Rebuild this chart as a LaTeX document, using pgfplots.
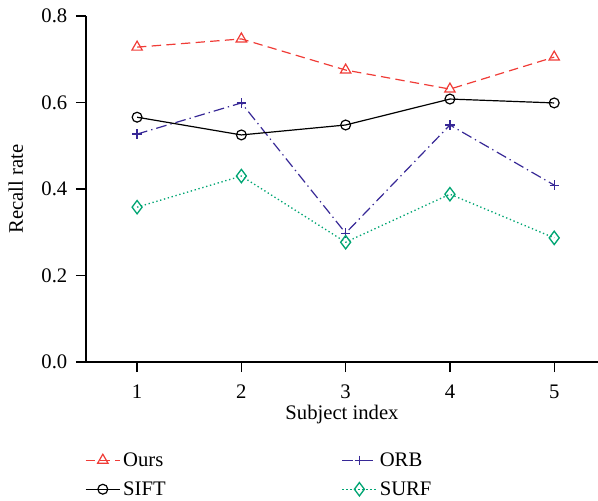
\documentclass[border=0pt]{standalone}
\usepackage{pgfplots}
\pgfplotsset{compat=1.18}
\usepackage{fontspec}
\setmainfont{Liberation Serif}
\definecolor{cOurs}{RGB}{240,60,55}
\definecolor{cORB}{RGB}{55,40,150}
\definecolor{cSURF}{RGB}{0,165,115}
\begin{document}
\begin{tikzpicture}
\begin{axis}[
  name=ax,
  scale only axis,
  width=384pt, height=259.5pt,
  xmin=0.51, xmax=5.42, ymin=0, ymax=0.8,
  axis x line=bottom, axis y line=left,
  axis line style={-, line width=0.9pt},
  xtick={1,2,3,4,5},
  ytick={0,0.2,0.4,0.6,0.8},
  yticklabel style={xshift=-3pt, /pgf/number format/.cd, fixed, fixed zerofill, precision=1},
  xticklabel style={yshift=-6pt},
  /pgf/number format/assume math mode=true,
  tick align=outside,
  major tick length=7.5pt,
  tick style={black, line width=0.9pt},
  font=\fontsize{15.5}{18}\selectfont,
  xlabel={Subject index},
  ylabel={Recall rate},
  xlabel style={yshift=2pt},
  ylabel style={yshift=7pt},
  legend columns=2,
  legend style={draw=none, at={(axis description cs:-0.01,-0.245)}, anchor=north west,
    /tikz/every even column/.append style={column sep=130pt},
    row sep=6pt, font=\fontsize{15.5}{18}\selectfont},
  legend cell align=left,
  legend image code/.code={\draw[mark repeat=2,mark phase=2] plot coordinates {(0cm,0cm)(0.45cm,0cm)(0.9cm,0cm)};},
]
\addplot[cOurs, dash pattern=on 7pt off 4pt, line width=0.9pt, mark=triangle, mark size=4.5pt, mark options={solid}]
  coordinates {(1,0.728) (2,0.747) (3,0.675) (4,0.631) (5,0.705)};
\addlegendentry{Ours}
\addplot[cORB, dash pattern=on 8pt off 3pt on 1pt off 3pt, line width=0.9pt, mark=+, mark size=3.5pt, mark options={solid}]
  coordinates {(1,0.527) (2,0.599) (3,0.298) (4,0.548) (5,0.409)};
\addlegendentry{ORB}
\addplot[black, solid, line width=0.9pt, mark=o, mark size=3.7pt]
  coordinates {(1,0.566) (2,0.525) (3,0.548) (4,0.608) (5,0.599)};
\addlegendentry{SIFT}
\addplot[cSURF, dotted, line width=1pt, mark=diamond, mark size=5pt, mark options={solid}]
  coordinates {(1,0.358) (2,0.430) (3,0.277) (4,0.388) (5,0.287)};
\addlegendentry{SURF}
\end{axis}
\pgfresetboundingbox
\path[use as bounding box] (ax.south west) ++(-64.5pt,-103.5pt) rectangle ++(448.5pt,375pt);
\end{tikzpicture}
\end{document}
